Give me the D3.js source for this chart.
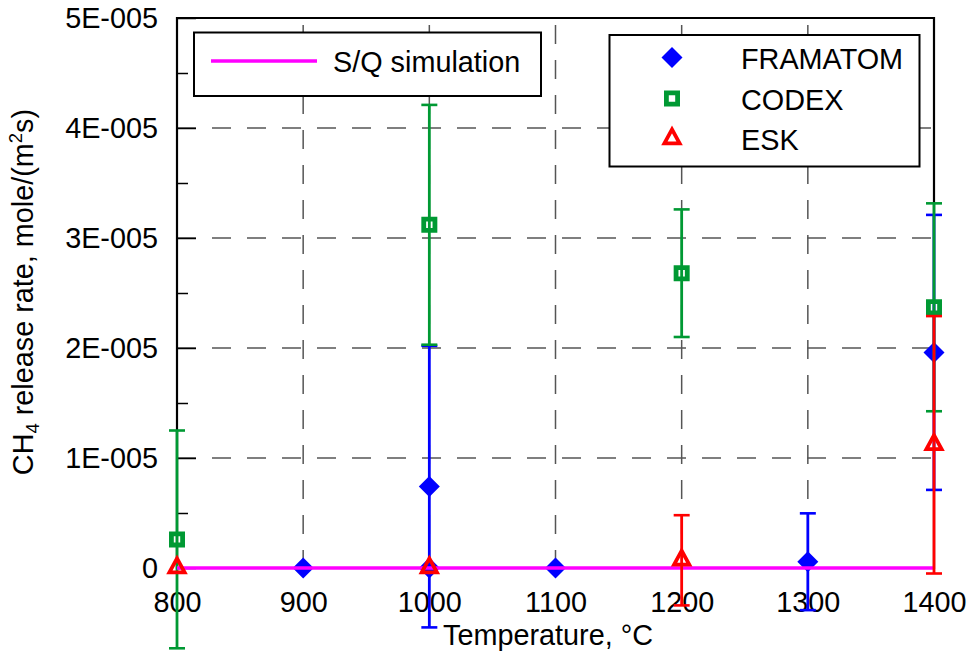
<!DOCTYPE html>
<html>
<head>
<meta charset="utf-8">
<script src="https://cdn.jsdelivr.net/npm/d3@7"></script>
<style>
  html, body { margin: 0; padding: 0; background: #fff; }
  svg { display: block; font-family: Arial, "Liberation Sans", sans-serif; }
</style>
</head>
<body>
<svg id="chart" width="969" height="653"></svg>
<script>
// CH4 release rate measurements vs. temperature
const xTicks = [800, 900, 1000, 1100, 1200, 1300, 1400];
const yTicks = [0, 1e-5, 2e-5, 3e-5, 4e-5, 5e-5];
const yMinorTicks = [0.5e-5, 1.5e-5, 2.5e-5, 3.5e-5, 4.5e-5];

const framTemp = [900, 1000, 1000, 1100, 1300, 1400];
const framRate = [0, 0, 7.4e-6, 0, 5.7e-7, 1.96e-5];
const framErr  = [0, 0, 1.28e-5, 0, 4.4e-6, 1.25e-5];

const codexTemp = [800, 1000, 1200, 1400];
const codexRate = [2.6e-6, 3.12e-5, 2.68e-5, 2.37e-5];
const codexErr  = [9.9e-6, 1.09e-5, 5.8e-6, 9.45e-6];

const eskTemp = [800, 1000, 1200, 1400];
const eskRate = [0, 0, 7e-7, 1.12e-5];
const eskErr  = [0, 0, 4.1e-6, 1.17e-5];

const simTemp = [800, 900, 1000, 1100, 1200, 1300, 1400];
const simRate = [0, 0, 0, 0, 0, 0, 0];

const seriesNames = ["FRAMATOM", "CODEX", "ESK"];
const seriesColors = ["#0000ff", "#009933", "#ff0000"];
const simName = "S/Q simulation";
const simColor = "#ff00ff";

const svg = d3.select("#chart");
const plotL = 177, plotR = 934, plotT = 18, plotB = 568;
const x = d3.scaleLinear().domain([800, 1400]).range([plotL, plotR]);
const y = d3.scaleLinear().domain([0, 5e-5]).range([plotB, plotT]);
const FONT = 28.8;

// dashed grid
const grid = svg.append("g").attr("stroke", "#555").attr("stroke-width", 1.5)
  .attr("stroke-dasharray", "19,16");
grid.selectAll("line.v").data(xTicks.slice(1, -1)).join("line").attr("class", "v")
  .attr("x1", d => x(d)).attr("x2", d => x(d))
  .attr("y1", plotT).attr("y2", plotB)
  .attr("stroke-dashoffset", 28);
grid.selectAll("line.h").data(yTicks.slice(1, -1)).join("line").attr("class", "h")
  .attr("y1", d => y(d)).attr("y2", d => y(d))
  .attr("x1", plotL).attr("x2", plotR);

// y axis (ticks pointing into the plot)
const fmt = v => v === 0 ? "0" : Math.round(v / 1e-5) + "E-005";
const yAxis = svg.append("g").attr("transform", `translate(${plotL},0)`)
  .call(d3.axisLeft(y).tickValues(yTicks).tickSize(-19).tickPadding(19).tickFormat(fmt));
yAxis.select(".domain").remove();
yAxis.selectAll(".tick line").attr("stroke", "#000").attr("stroke-width", 1.5);
yAxis.selectAll("text").attr("font-size", FONT).attr("fill", "#000")
  .attr("font-family", "Arial, 'Liberation Sans', sans-serif");
const yMinor = svg.append("g").attr("transform", `translate(${plotL},0)`)
  .call(d3.axisLeft(y).tickValues(yMinorTicks).tickSize(-11).tickFormat(""));
yMinor.select(".domain").remove();
yMinor.selectAll(".tick line").attr("stroke", "#000").attr("stroke-width", 1.5);

// x axis labels
const xAxis = svg.append("g").attr("transform", `translate(0,${plotB})`)
  .call(d3.axisBottom(x).tickValues(xTicks).tickSize(0).tickPadding(24).tickFormat(d3.format("d")));
xAxis.select(".domain").remove();
xAxis.selectAll("text").attr("font-size", FONT).attr("fill", "#000")
  .attr("font-family", "Arial, 'Liberation Sans', sans-serif");

// frame
svg.append("path")
  .attr("d", `M${plotL},${plotB}V${plotT}H${plotR}V${plotB}Z`)
  .attr("fill", "none").attr("stroke", "#000").attr("stroke-width", 2.2);

// axis titles
svg.append("text").attr("x", 548).attr("y", 645).attr("text-anchor", "middle")
  .attr("font-size", FONT).text("Temperature, °C");
const yt = svg.append("text").attr("transform", "translate(33,292) rotate(-90)")
  .attr("text-anchor", "middle").attr("font-size", FONT);
yt.append("tspan").text("CH");
yt.append("tspan").attr("font-size", 18.5).attr("dy", 6).text("4");
yt.append("tspan").attr("dy", -6).text(" release rate, mole/(m");
yt.append("tspan").attr("font-size", 18.5).attr("dy", -11).text("2");
yt.append("tspan").attr("dy", 11).text("s)");

// marker shapes
function markerPath(kind) {
  if (kind === 0) return "M0,-10.5L10.5,0L0,10.5L-10.5,0Z";
  if (kind === 1) return "M-5.6,-5.6H5.6V5.6H-5.6Z";
  return "M0,-9.6L7.6,4.4H-7.6Z";
}
function drawMarker(g, kind, color, cx, cy) {
  const p = g.append("path").attr("d", markerPath(kind))
    .attr("transform", `translate(${cx},${cy})`);
  if (kind === 0) p.attr("fill", color);
  else p.attr("fill", "none").attr("stroke", color)
    .attr("stroke-width", kind === 1 ? 4.8 : 3.8).attr("stroke-linejoin", "miter");
}

function drawSeries(kind, temps, rates, errs) {
  const color = seriesColors[kind];
  const g = svg.append("g");
  temps.forEach((t, i) => {
    const e = errs[i];
    const cx = x(t);
    if (e > 0) {
      const y1 = y(rates[i] - e), y2 = y(rates[i] + e);
      g.append("line").attr("x1", cx).attr("x2", cx).attr("y1", y1).attr("y2", y2)
        .attr("stroke", color).attr("stroke-width", 2.8);
      [y1, y2].forEach(yy => g.append("line")
        .attr("x1", cx - 8).attr("x2", cx + 8).attr("y1", yy).attr("y2", yy)
        .attr("stroke", color).attr("stroke-width", 2.6));
    }
    drawMarker(g, kind, color, cx, y(rates[i]));
  });
}

drawSeries(0, framTemp, framRate, framErr);
drawSeries(1, codexTemp, codexRate, codexErr);

// simulation line
svg.append("path")
  .datum(simTemp.map((t, i) => [t, simRate[i]]))
  .attr("d", d3.line().x(d => x(d[0])).y(d => y(d[1])))
  .attr("fill", "none").attr("stroke", simColor).attr("stroke-width", 3.3);

drawSeries(2, eskTemp, eskRate, eskErr);

// legend: simulation
const lg1 = svg.append("g");
lg1.append("rect").attr("x", 194).attr("y", 32.5).attr("width", 347).attr("height", 63.5)
  .attr("fill", "#fff").attr("stroke", "#000").attr("stroke-width", 2);
lg1.append("line").attr("x1", 211).attr("x2", 317).attr("y1", 61).attr("y2", 61)
  .attr("stroke", simColor).attr("stroke-width", 3.3);
lg1.append("text").attr("x", 333).attr("y", 72).attr("font-size", FONT).text(simName);

// legend: measurements
const lg2 = svg.append("g");
lg2.append("rect").attr("x", 609.5).attr("y", 35).attr("width", 310).attr("height", 131.5)
  .attr("fill", "#fff").attr("stroke", "#000").attr("stroke-width", 2);
const legY = [57.5, 98.5, 139];
seriesNames.forEach((name, i) => {
  drawMarker(lg2, i, seriesColors[i], 672, legY[i]);
  lg2.append("text").attr("x", 741).attr("y", legY[i] + 11).attr("font-size", FONT).text(name);
});
</script>
</body>
</html>
